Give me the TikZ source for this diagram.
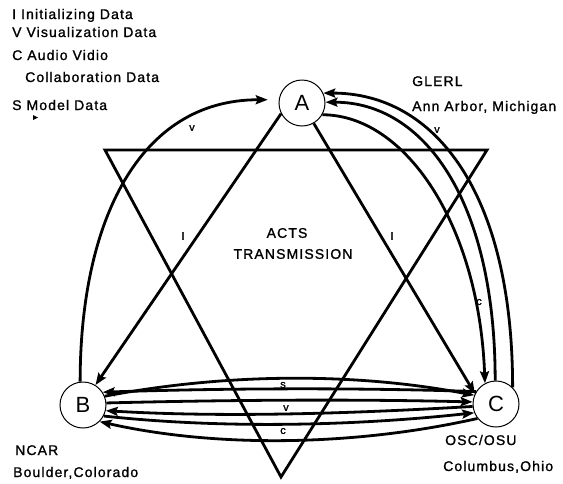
\documentclass[tikz,border=0pt]{standalone}
\usepackage{fontspec}
\setmainfont[LetterSpace=8,FakeBold=1.2]{Liberation Sans}
\newfontfamily\plainsans{Liberation Sans}
\usetikzlibrary{arrows.meta}
\begin{document}
\begin{tikzpicture}[x=1pt,y=-1pt,
  site/.style={circle,draw,line width=1pt,minimum size=46pt,inner sep=0pt,font=\plainsans\fontsize{22}{22}\selectfont},
  lbl/.style={anchor=base west,inner sep=0pt,font=\fontsize{14}{16}\selectfont},
  tinylbl/.style={inner sep=0pt,font=\fontsize{11}{11}\selectfont},
  link/.style={line width=2.8pt},
  arr/.style={link,-{Stealth[length=12pt,width=9pt,inset=2pt]}},
]
\useasboundingbox (0,0) rectangle (563,483);

% legend
\node[lbl] (l1) at (12,19) {I Initializing Data};
\node[lbl] (l2) at (12,37) {V Visualization Data};
\node[lbl] (l3) at (12,60) {C Audio Vidio};
\node[lbl] (l4) at (25,82) {Collaboration Data};
\node[lbl] (l5) at (12,110) {S Model Data};
\fill (33,115) -- (38,117.5) -- (33,120) -- cycle;

% triangle
\draw[line width=2.8pt] (105,150) -- (487,150) -- (281,477) -- cycle;

% sites
\node[site] (A) at (302,103) {A};
\node[site] (B) at (83,405) {B};
\node[site] (C) at (496,404) {C};

% site labels
\node[lbl] (glerl) at (412,86) {GLERL};
\node[lbl] (ann) at (412,111) {Ann Arbor, Michigan};
\node[lbl] (ncar) at (15,455) {NCAR};
\node[lbl] (boul) at (13,477) {Boulder,Colorado};
\node[lbl] (osc) at (445,445) {OSC/OSU};
\node[lbl] (colu) at (443,471) {Columbus,Ohio};
\node[inner sep=0pt,font=\fontsize{14}{16}\selectfont] (acts) at (287,233) {ACTS};
\node[inner sep=0pt,font=\fontsize{14}{16}\selectfont] (trans) at (293,254) {TRANSMISSION};

% I links
\draw[arr] (A.207) -- (B.58);
\draw[arr] (A.-60) -- (C.154);
\node[tinylbl] (iL) at (183,236) {I};
\node[tinylbl] (iR) at (392,236) {I};

% V arc left
\draw[arr,shorten >=11pt] (B.97) .. controls +(0,-160) and +(-140,0) .. (A.172);
\node[tinylbl] (vL) at (192,128) {v};

% right arcs
\draw[arr] (C.45) .. controls +(0,-194) and +(112,0) .. (A.25);
\draw[arr] (C.92) .. controls +(0,-181) and +(98,0) .. (A.2);
\draw[arr] (A.-30) .. controls +(82,0) and +(-6,-160) .. (C.118);
\node[tinylbl] (vR) at (437,130) {v};
\node[tinylbl] (cR) at (479,302) {c};

% B-C links
\draw[arr] (B.22) .. controls +(120,-23) and +(-120,-23) .. (C.158);
\draw[arr] (C.148) .. controls +(-120,-4) and +(120,-4) .. (B.33);
\draw[arr] (B.5) .. controls +(120,-3) and +(-120,-3) .. (C.175);
\draw[arr] (C.186) .. controls +(-120,7) and +(120,7) .. (B.-14);
\draw[arr] (B.-28) .. controls +(120,13) and +(-120,13) .. (C.202);
\draw[arr] (C.218) .. controls +(-120,27) and +(120,27) .. (B.-45);
\node[tinylbl] (s1) at (283,385) {s};
\node[tinylbl] (v1) at (286,408) {v};
\node[tinylbl] (c1) at (283,431) {c};
\end{tikzpicture}
\end{document}
